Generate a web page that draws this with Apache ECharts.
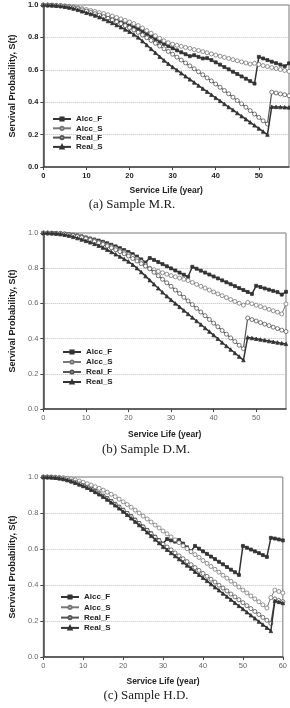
<!DOCTYPE html>
<html lang="en">
<head>
<meta charset="UTF-8">
<title>Survival probability</title>
<script src="https://cdn.jsdelivr.net/npm/echarts@6/dist/echarts.min.js"></script>
<style>
html, body { margin: 0; padding: 0; background: #fff; }
#main { width: 290px; height: 708px; }
</style>
</head>
<body>
<div id="main"></div>
<script>
var names = ['Alcc_F', 'Alcc_S', 'Real_F', 'Real_S'];

var years = ['0','1','2','3','4','5','6','7','8','9','10','11','12','13','14','15','16','17','18','19','20',
  '21','22','23','24','25','26','27','28','29','30','31','32','33','34','35','36','37','38','39','40',
  '41','42','43','44','45','46','47','48','49','50','51','52','53','54','55','56','57','58','59','60'];

// (a) Sample M.R.  years 0-57
var aAlccF = [1.000,1.000,0.999,0.997,0.995,0.992,0.988,0.983,0.977,0.970,0.962,
  0.955,0.948,0.940,0.931,0.922,0.913,0.903,0.893,0.883,0.873,
  0.863,0.852,0.838,0.822,0.806,0.790,0.774,0.760,0.746,0.733,
  0.720,0.708,0.696,0.684,0.690,0.680,0.670,0.672,0.660,0.646,
  0.632,0.617,0.603,0.588,0.574,0.559,0.545,0.530,0.515,0.680,
  0.670,0.660,0.650,0.641,0.632,0.622,0.640];
var aAlccS = [1.000,1.000,0.999,0.998,0.997,0.995,0.992,0.988,0.983,0.978,0.972,
  0.966,0.960,0.953,0.947,0.940,0.932,0.923,0.914,0.905,0.895,
  0.885,0.873,0.858,0.842,0.826,0.810,0.794,0.779,0.767,0.758,
  0.751,0.745,0.738,0.732,0.725,0.719,0.712,0.705,0.698,0.691,
  0.684,0.677,0.670,0.663,0.656,0.649,0.642,0.635,0.640,0.633,
  0.626,0.620,0.614,0.608,0.602,0.596,0.590];
var aRealF = [1.000,1.000,0.999,0.997,0.995,0.992,0.988,0.983,0.977,0.970,0.962,
  0.954,0.946,0.937,0.928,0.918,0.908,0.897,0.885,0.873,0.860,
  0.846,0.831,0.815,0.798,0.781,0.764,0.747,0.730,0.713,0.696,
  0.678,0.660,0.642,0.624,0.606,0.588,0.569,0.550,0.531,0.512,
  0.492,0.472,0.452,0.431,0.410,0.390,0.369,0.348,0.327,0.306,
  0.285,0.265,0.462,0.457,0.451,0.446,0.440];
var aRealS = [1.000,0.999,0.998,0.996,0.993,0.989,0.984,0.978,0.970,0.961,0.952,
  0.944,0.935,0.925,0.913,0.901,0.889,0.876,0.863,0.849,0.835,
  0.818,0.800,0.777,0.753,0.729,0.705,0.681,0.658,0.637,0.617,
  0.598,0.579,0.560,0.541,0.522,0.503,0.484,0.465,0.446,0.427,
  0.408,0.389,0.370,0.352,0.333,0.314,0.295,0.276,0.257,0.238,
  0.219,0.200,0.372,0.371,0.370,0.369,0.368];

// (b) Sample D.M.  years 0-57
var bAlccF = [1.000,1.000,1.000,0.999,0.998,0.996,0.993,0.990,0.986,0.981,0.975,
  0.969,0.963,0.957,0.950,0.942,0.933,0.924,0.914,0.903,0.892,
  0.880,0.866,0.850,0.832,0.858,0.847,0.835,0.823,0.811,0.799,
  0.787,0.775,0.763,0.751,0.808,0.797,0.786,0.775,0.764,0.753,
  0.742,0.731,0.720,0.709,0.698,0.687,0.676,0.665,0.654,0.700,
  0.693,0.685,0.678,0.671,0.664,0.650,0.666];
var bAlccS = [1.000,1.000,0.999,0.998,0.996,0.994,0.991,0.987,0.982,0.976,0.970,
  0.963,0.956,0.948,0.940,0.931,0.922,0.912,0.901,0.890,0.878,
  0.866,0.852,0.836,0.818,0.800,0.791,0.782,0.774,0.766,0.758,
  0.751,0.744,0.737,0.730,0.719,0.708,0.697,0.687,0.676,0.665,
  0.654,0.644,0.633,0.622,0.611,0.601,0.590,0.606,0.598,0.590,
  0.582,0.574,0.566,0.558,0.550,0.540,0.597];
var bRealF = [1.000,1.000,0.999,0.998,0.996,0.993,0.989,0.985,0.980,0.974,0.967,
  0.960,0.952,0.944,0.935,0.926,0.916,0.905,0.894,0.882,0.869,
  0.855,0.841,0.826,0.812,0.797,0.777,0.757,0.737,0.717,0.697,
  0.676,0.656,0.635,0.614,0.593,0.572,0.551,0.530,0.509,0.488,
  0.467,0.446,0.425,0.404,0.383,0.362,0.343,0.517,0.508,0.500,
  0.491,0.482,0.474,0.465,0.457,0.448,0.440];
var bRealS = [1.000,1.000,0.999,0.997,0.994,0.990,0.985,0.978,0.971,0.963,0.955,
  0.947,0.938,0.928,0.917,0.905,0.892,0.879,0.866,0.852,0.838,
  0.820,0.800,0.778,0.755,0.732,0.709,0.686,0.663,0.641,0.620,
  0.600,0.580,0.560,0.540,0.520,0.500,0.480,0.460,0.440,0.420,
  0.399,0.378,0.358,0.338,0.318,0.298,0.278,0.407,0.403,0.399,
  0.395,0.391,0.386,0.382,0.378,0.374,0.370];

// (c) Sample H.D.  years 0-60
var cAlccF = [1.000,1.000,0.999,0.997,0.994,0.990,0.985,0.978,0.971,0.963,0.955,
  0.945,0.934,0.922,0.909,0.896,0.882,0.867,0.851,0.835,0.818,
  0.800,0.782,0.763,0.744,0.725,0.706,0.687,0.668,0.649,0.630,
  0.655,0.648,0.641,0.650,0.630,0.609,0.588,0.617,0.602,0.587,
  0.573,0.558,0.544,0.529,0.515,0.500,0.485,0.471,0.456,0.617,
  0.607,0.597,0.587,0.577,0.566,0.556,0.662,0.658,0.653,0.648];
var cAlccS = [1.000,1.000,1.000,0.999,0.998,0.996,0.993,0.989,0.984,0.978,0.971,
  0.963,0.955,0.946,0.937,0.927,0.916,0.904,0.891,0.877,0.862,
  0.847,0.832,0.816,0.800,0.783,0.767,0.750,0.733,0.717,0.700,
  0.684,0.667,0.651,0.635,0.618,0.602,0.585,0.569,0.553,0.536,
  0.520,0.503,0.487,0.471,0.454,0.438,0.421,0.405,0.389,0.372,
  0.356,0.339,0.323,0.307,0.290,0.272,0.330,0.372,0.364,0.356];
var cRealF = [1.000,1.000,0.999,0.997,0.994,0.990,0.984,0.977,0.970,0.962,0.953,
  0.943,0.932,0.920,0.907,0.893,0.879,0.864,0.848,0.832,0.815,
  0.797,0.779,0.760,0.741,0.722,0.703,0.684,0.665,0.646,0.627,
  0.611,0.595,0.578,0.562,0.546,0.530,0.513,0.497,0.481,0.464,
  0.448,0.432,0.416,0.399,0.383,0.367,0.350,0.334,0.318,0.302,
  0.285,0.269,0.253,0.236,0.220,0.204,0.187,0.322,0.314,0.307];
var cRealS = [1.000,0.999,0.998,0.996,0.993,0.989,0.983,0.976,0.968,0.959,0.950,
  0.940,0.929,0.917,0.904,0.890,0.875,0.859,0.843,0.826,0.808,
  0.790,0.771,0.752,0.733,0.713,0.693,0.673,0.653,0.633,0.613,
  0.596,0.578,0.561,0.544,0.526,0.509,0.492,0.474,0.457,0.440,
  0.423,0.405,0.388,0.371,0.353,0.336,0.319,0.301,0.284,0.267,
  0.249,0.232,0.215,0.197,0.180,0.163,0.145,0.312,0.306,0.300];

var captions = ['(a) Sample M.R.', '(b) Sample D.M.', '(c) Sample H.D.'];

var panels = [
  { grid: {left: 32, top: 5, width: 257, height: 162}, last: 57, data: [aAlccF, aAlccS, aRealF, aRealS],
    bold: true, labelColor: '#222', yGap: 21, xGap: 19, capX: 132, capY: 205,
    legend: {left: 52, top: 115, gap: 0.3} },
  { grid: {left: 34, top: 233, width: 252, height: 176}, last: 57, data: [bAlccF, bAlccS, bRealF, bRealS],
    bold: false, labelColor: '#666', yGap: 22, xGap: 21, capX: 146, capY: 450,
    legend: {left: 62, top: 348, gap: 1} },
  { grid: {left: 32, top: 477, width: 256, height: 180}, last: 60, data: [cAlccF, cAlccS, cRealF, cRealS],
    bold: false, labelColor: '#666', yGap: 21, xGap: 20, capX: 146, capY: 696,
    legend: {left: 60, top: 593, gap: 1.3} }
];

var looks = {
  Alcc_F: {symbol: 'rect', size: 3, line: '#333', fill: '#333', w: 1.5},
  Alcc_S: {symbol: 'circle', size: 4, line: '#777', fill: '#fff', w: 1},
  Real_F: {symbol: 'circle', size: 4, line: '#555', fill: '#fff', w: 1.2},
  Real_S: {symbol: 'triangle', size: 3.5, line: '#333', fill: '#333', w: 1.5}
};

var font = 'Liberation Sans, Arial, sans-serif';
var option = {
  backgroundColor: '#fff',
  animation: false,
  grid: [], xAxis: [], yAxis: [], series: [], legend: [], graphic: []
};

panels.forEach(function (p, k) {
  option.grid.push({
    left: p.grid.left, top: p.grid.top, width: p.grid.width, height: p.grid.height,
    show: true, borderColor: '#777', borderWidth: 1, backgroundColor: '#fff'
  });
  option.xAxis.push({
    type: 'category', gridIndex: k, data: years.slice(0, p.last + 1), boundaryGap: false,
    name: 'Service Life (year)', nameLocation: 'middle', nameGap: p.xGap,
    nameTextStyle: {fontFamily: font, fontSize: 8.5, fontWeight: 'bold', color: '#222'},
    axisLine: {lineStyle: {color: '#444', width: 1.5}},
    axisTick: {interval: 9, length: 3, lineStyle: {color: '#444'}},
    axisLabel: {interval: 9, margin: 5, fontFamily: font, fontSize: 7.5,
      fontWeight: p.bold ? 'bold' : 'normal', color: p.labelColor},
    splitLine: {show: false}
  });
  option.yAxis.push({
    type: 'value', gridIndex: k, min: 0, max: 1, interval: 0.2,
    name: 'Servival Probability, S(t)', nameLocation: 'middle', nameGap: p.yGap,
    nameTextStyle: {fontFamily: font, fontSize: 9, fontWeight: 'bold', color: '#222'},
    axisLine: {show: true, lineStyle: {color: '#444', width: 1.5}},
    axisTick: {show: true, length: 3, lineStyle: {color: '#444'}},
    axisLabel: {margin: 5, fontFamily: font, fontSize: 7.5, formatter: function (v) { return v.toFixed(1); },
      fontWeight: p.bold ? 'bold' : 'normal', color: p.labelColor},
    splitLine: {show: true, lineStyle: {color: '#bbb', type: 'dotted', width: 1}}
  });
  names.forEach(function (n, j) {
    var lk = looks[n];
    option.series.push({
      name: n, type: 'line', xAxisIndex: k, yAxisIndex: k,
      data: p.data[j], symbol: lk.symbol, symbolSize: lk.size, showAllSymbol: true,
      lineStyle: {color: lk.line, width: lk.w},
      itemStyle: {color: lk.fill, borderColor: lk.line, borderWidth: 0.8},
      z: 3 + j
    });
  });
  option.legend.push({
    data: names, orient: 'vertical', left: p.legend.left, top: p.legend.top,
    itemWidth: 18, itemHeight: 4, itemGap: p.legend.gap + 1, padding: 0, selectedMode: false,
    textStyle: {fontFamily: font, fontSize: 8, fontWeight: 'bold', color: '#222', lineHeight: 8}
  });
  option.graphic.push({
    type: 'text', x: p.capX, y: p.capY,
    style: {text: captions[k], fontFamily: 'Liberation Serif, DejaVu Serif, serif', fontSize: 13,
      fill: '#222', textAlign: 'center', textVerticalAlign: 'middle'}
  });
});

var chart = echarts.init(document.getElementById('main'));
chart.setOption(option);
</script>
</body>
</html>
